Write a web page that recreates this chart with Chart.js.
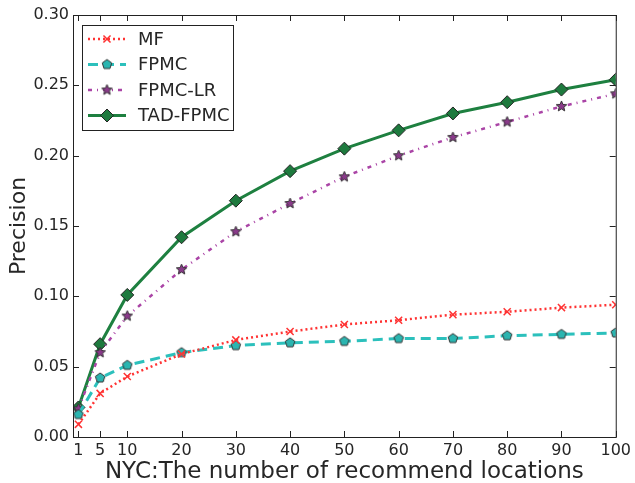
<!DOCTYPE html>
<html>
<head>
<meta charset="utf-8">
<script src="https://cdn.jsdelivr.net/npm/chart.js@4.4.1/dist/chart.umd.min.js"></script>
<style>
  html, body { margin: 0; padding: 0; background: #fff; }
  #wrap { width: 635px; height: 483px; }
</style>
</head>
<body>
<div id="wrap"><canvas id="chart" width="635" height="483"></canvas></div>
<script>
// x positions (number of recommended locations)
const xValues = [1, 5, 10, 20, 30, 40, 50, 60, 70, 80, 90, 100];
const yTicks = [0, 0.05, 0.10, 0.15, 0.20, 0.25, 0.30];

// precision per method
const mfValues      = [0.009, 0.031, 0.043, 0.059, 0.069, 0.075, 0.080, 0.083, 0.087, 0.089, 0.092, 0.094];
const fpmcValues    = [0.016, 0.042, 0.051, 0.060, 0.065, 0.067, 0.068, 0.070, 0.070, 0.072, 0.073, 0.074];
const fpmcLrValues  = [0.020, 0.060, 0.086, 0.119, 0.146, 0.166, 0.185, 0.200, 0.213, 0.224, 0.235, 0.244];
const tadFpmcValues = [0.021, 0.066, 0.101, 0.142, 0.168, 0.189, 0.205, 0.218, 0.230, 0.238, 0.247, 0.254];

const FONT = "'DejaVu Sans', sans-serif";
const TEXT = '#262626';

// small canvas markers for shapes Chart.js doesn't have
function makeMarker(kind, fill, stroke, r) {
    const size = Math.ceil(r * 2 + 4);
    const c = document.createElement('canvas');
    c.width = size; c.height = size;
    const g = c.getContext('2d');
    const cx = size / 2, cy = size / 2;
    g.beginPath();
    const n = kind === 'star' ? 10 : 5;
    for (let i = 0; i < n; i++) {
        const a = -Math.PI / 2 + i * 2 * Math.PI / n;
        const rr = (kind === 'star' && i % 2 === 1) ? r * 0.45 : r;
        const px = cx + rr * Math.cos(a), py = cy + rr * Math.sin(a);
        if (i === 0) g.moveTo(px, py); else g.lineTo(px, py);
    }
    g.closePath();
    g.fillStyle = fill;
    g.fill();
    g.lineWidth = 1;
    g.strokeStyle = stroke;
    g.stroke();
    return c;
}

const pentagon = makeMarker('pentagon', '#2bb5b0', '#333', 5);
const star = makeMarker('star', '#8a3a8a', '#333', 5.5);

function toPoints(vals) {
    return vals.map((v, i) => ({ x: xValues[i], y: v }));
}

const datasets = [{
    label: 'MF',
    data: toPoints(mfValues),
    borderColor: '#ff3333',
    borderWidth: 2.5,
    borderDash: [2, 3],
    pointStyle: 'crossRot',
    pointRadius: 5,
    pointBorderColor: '#ff3333',
    pointBorderWidth: 1.5,
    pointBackgroundColor: '#ff3333'
}, {
    label: 'FPMC',
    data: toPoints(fpmcValues),
    borderColor: '#2cc0bc',
    borderWidth: 3,
    borderDash: [10, 6],
    pointStyle: pentagon,
    pointRadius: 5
}, {
    label: 'FPMC-LR',
    data: toPoints(fpmcLrValues),
    borderColor: '#aa44a6',
    borderWidth: 2.5,
    borderDash: [4, 5, 1, 5],
    pointStyle: star,
    pointRadius: 5
}, {
    label: 'TAD-FPMC',
    data: toPoints(tadFpmcValues),
    borderColor: '#1e8040',
    borderWidth: 3,
    pointStyle: 'rectRot',
    pointRadius: 6.5,
    pointBackgroundColor: '#1e7a3e',
    pointBorderColor: '#222',
    pointBorderWidth: 1
}];

// frame around plot with inward ticks, matplotlib style
const framePlugin = {
    id: 'frame',
    afterDraw(chart) {
        const { ctx, chartArea: a, scales } = chart;
        ctx.save();
        ctx.strokeStyle = '#222';
        ctx.lineWidth = 1;
        ctx.strokeRect(a.left + 0.5, a.top + 0.5, a.right - a.left, a.bottom - a.top);
        const len = 6;
        ctx.beginPath();
        xValues.forEach(v => {
            const px = Math.round(scales.x.getPixelForValue(v)) + 0.5;
            ctx.moveTo(px, a.bottom); ctx.lineTo(px, a.bottom - len);
            ctx.moveTo(px, a.top); ctx.lineTo(px, a.top + len);
        });
        yTicks.forEach(v => {
            const py = Math.round(scales.y.getPixelForValue(v)) + 0.5;
            ctx.moveTo(a.left, py); ctx.lineTo(a.left + len, py);
            ctx.moveTo(a.right, py); ctx.lineTo(a.right - len, py);
        });
        ctx.stroke();
        ctx.restore();
    }
};

// legend box inside the plot, upper left
const legendPlugin = {
    id: 'boxLegend',
    afterDraw(chart) {
        const ctx = chart.ctx;
        const a = chart.chartArea;
        const bx = a.left + 9, by = a.top + 10, bw = 151, bh = 105;
        ctx.save();
        ctx.fillStyle = '#fff';
        ctx.fillRect(bx, by, bw, bh);
        ctx.strokeStyle = '#222';
        ctx.lineWidth = 1;
        ctx.strokeRect(bx + 0.5, by + 0.5, bw, bh);
        ctx.font = '18px ' + FONT;
        ctx.textBaseline = 'middle';
        chart.data.datasets.forEach((ds, i) => {
            const y = by + 14 + i * 25.5;
            ctx.save();
            ctx.strokeStyle = ds.borderColor;
            ctx.lineWidth = ds.borderWidth;
            ctx.setLineDash(ds.borderDash || []);
            ctx.beginPath();
            ctx.moveTo(bx + 6, y);
            ctx.lineTo(bx + 44, y);
            ctx.stroke();
            ctx.restore();
            ctx.save();
            ctx.setLineDash([]);
            ctx.strokeStyle = ds.pointBorderColor || ds.borderColor;
            ctx.fillStyle = ds.pointBackgroundColor || ds.borderColor;
            ctx.lineWidth = ds.pointBorderWidth || 1;
            Chart.helpers.drawPoint(ctx, {
                pointStyle: ds.pointStyle,
                radius: ds.pointRadius,
                rotation: 0,
                borderWidth: ds.pointBorderWidth || 1
            }, bx + 25, y);
            ctx.restore();
            ctx.fillStyle = TEXT;
            ctx.fillText(ds.label, bx + 56, y + 1);
        });
        ctx.restore();
    }
};

new Chart(document.getElementById('chart').getContext('2d'), {
    type: 'line',
    data: { datasets: datasets },
    options: {
        responsive: false,
        animation: false,
        layout: { padding: { top: 15, right: 18, left: 0, bottom: 0 } },
        plugins: {
            legend: { display: false },
            tooltip: { enabled: false }
        },
        elements: { line: { tension: 0 } },
        scales: {
            x: {
                type: 'linear',
                min: 0,
                max: 100,
                afterBuildTicks: axis => { axis.ticks = xValues.map(v => ({ value: v })); },
                afterFit: axis => { axis.height = 46; },
                grid: { display: false, drawTicks: false },
                border: { display: false },
                ticks: {
                    color: TEXT,
                    font: { family: FONT, size: 16 },
                    padding: 4,
                    maxRotation: 0,
                    autoSkip: false
                },
                title: {
                    display: true,
                    text: 'NYC:The number of recommend locations',
                    color: TEXT,
                    font: { family: FONT, size: 23 },
                    padding: { top: 0, bottom: -3 }
                }
            },
            y: {
                min: 0,
                max: 0.3,
                afterBuildTicks: axis => { axis.ticks = yTicks.map(v => ({ value: v })); },
                afterFit: axis => { axis.width = 73; },
                grid: { display: false, drawTicks: false },
                border: { display: false },
                ticks: {
                    color: TEXT,
                    font: { family: FONT, size: 16 },
                    padding: 4,
                    callback: v => v.toFixed(2)
                },
                title: {
                    display: true,
                    text: 'Precision',
                    color: TEXT,
                    font: { family: FONT, size: 22 },
                    padding: { top: 6, bottom: 0 }
                }
            }
        }
    },
    plugins: [framePlugin, legendPlugin]
});
</script>
</body>
</html>
